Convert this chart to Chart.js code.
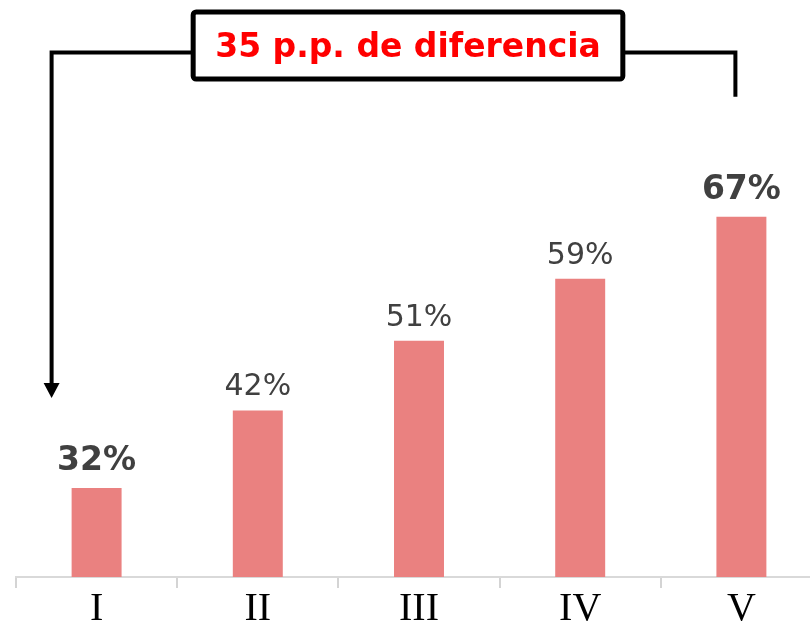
<!DOCTYPE html>
<html>
<head>
<meta charset="utf-8">
<script src="https://cdn.jsdelivr.net/npm/chart.js@4/dist/chart.umd.min.js"></script>
<style>
html,body{margin:0;padding:0;background:#fff;overflow:hidden;}
#wrap{position:relative;width:810px;height:623px;overflow:hidden;}
#box{position:absolute;left:0;top:0;width:822px;height:630px;}
</style>
</head>
<body>
<div id="wrap"><div id="box"><canvas id="c"></canvas></div></div>
<script>
const categories = ['I', 'II', 'III', 'IV', 'V'];
const values = [32, 42, 51, 59, 67];
const calloutText = '35 p.p. de diferencia';

const labelPlugin = {
  id: 'labels',
  afterDatasetsDraw(chart) {
    const ctx = chart.ctx;
    const meta = chart.getDatasetMeta(0);
    const last = values.length - 1;
    ctx.save();
    ctx.textAlign = 'center';
    ctx.textBaseline = 'alphabetic';
    ctx.fillStyle = '#404040';
    meta.data.forEach((bar, i) => {
      const bold = (i === 0 || i === last);
      ctx.font = (bold ? 'bold 33px' : '30px') + ' "DejaVu Sans", Verdana, sans-serif';
      ctx.fillText(values[i] + '%', bar.x, bar.y - (bold ? 18 : 15));
    });
    ctx.restore();
  }
};

const calloutPlugin = {
  id: 'callout',
  afterDraw(chart) {
    const ctx = chart.ctx;
    const xs = chart.scales.x, ys = chart.scales.y;
    const last = values.length - 1;
    const xL = xs.getPixelForValue(0) - 45;
    const xR = xs.getPixelForValue(last) - 6;
    const lineY = 52.5;
    const arrowTip = ys.getPixelForValue(values[0]) - 90;
    const rightEnd = ys.getPixelForValue(values[last]) - 120;
    const cx = xs.getPixelForValue(2) - 11;
    ctx.save();
    ctx.font = 'bold 33px "DejaVu Sans", Verdana, sans-serif';
    const tw = ctx.measureText(calloutText).width;
    const bx0 = cx - tw / 2 - 22, bx1 = cx + tw / 2 + 22;
    const by0 = 12, by1 = 79;
    ctx.strokeStyle = '#000';
    ctx.fillStyle = '#000';
    ctx.lineWidth = 4;
    ctx.lineJoin = 'miter';
    ctx.beginPath();
    ctx.moveTo(bx0, lineY);
    ctx.lineTo(xL, lineY);
    ctx.lineTo(xL, arrowTip - 14);
    ctx.stroke();
    ctx.beginPath();
    ctx.moveTo(xL - 8, arrowTip - 15);
    ctx.lineTo(xL + 8, arrowTip - 15);
    ctx.lineTo(xL, arrowTip);
    ctx.closePath();
    ctx.fill();
    ctx.beginPath();
    ctx.moveTo(bx1, lineY);
    ctx.lineTo(xR, lineY);
    ctx.lineTo(xR, rightEnd);
    ctx.stroke();
    ctx.fillStyle = '#fff';
    ctx.lineWidth = 5;
    ctx.beginPath();
    ctx.roundRect(bx0, by0, bx1 - bx0, by1 - by0, 3);
    ctx.fill();
    ctx.stroke();
    ctx.fillStyle = '#ff0000';
    ctx.textAlign = 'center';
    ctx.textBaseline = 'alphabetic';
    ctx.fillText(calloutText, cx, 57);
    ctx.restore();
  }
};

new Chart(document.getElementById('c'), {
  type: 'bar',
  data: {
    labels: categories,
    datasets: [{
      data: values,
      backgroundColor: '#EA8180',
      barPercentage: 0.31,
      categoryPercentage: 1
    }]
  },
  options: {
    responsive: true,
    maintainAspectRatio: false,
    animation: false,
    layout: { padding: { left: 16, right: 0, top: 0, bottom: 0 } },
    plugins: { legend: { display: false }, tooltip: { enabled: false } },
    scales: {
      y: { display: false, min: 20.5, max: 95 },
      x: {
        grid: { drawOnChartArea: false, drawTicks: true, tickLength: 11, color: '#d4d4d4', lineWidth: 2 },
        border: { display: true, color: '#d9d9d9', width: 2 },
        ticks: { color: '#000', padding: 3, font: { family: '"Liberation Serif", "Times New Roman", serif', size: 40, lineHeight: 0.9 } }
      }
    }
  },
  plugins: [labelPlugin, calloutPlugin]
});
</script>
</body>
</html>
